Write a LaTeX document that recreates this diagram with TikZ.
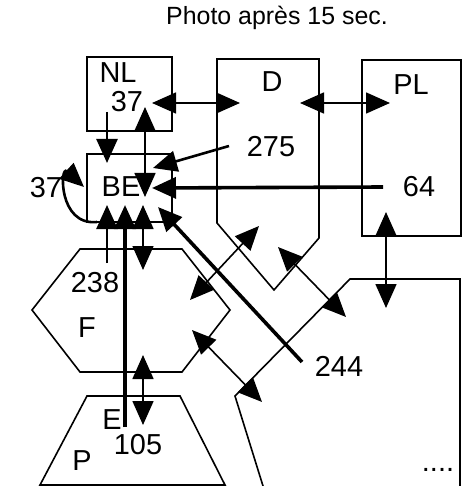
\documentclass[tikz,border=0pt]{standalone}
\usepackage{fontspec}
\setmainfont{Liberation Sans}
\usetikzlibrary{arrows.meta}

\begin{document}
\begin{tikzpicture}[x=1bp,y=-1bp,
    >={Triangle[length=24bp,width=21bp]},
    region/.style={draw,line width=1.6bp},
    lab/.style={font=\fontsize{29}{29}\selectfont,inner sep=0pt},
    thinflow/.style={line width=1.6bp},
    midflow/.style={line width=2.6bp},
    heavyflow/.style={line width=3.6bp}]

      \useasboundingbox (0,0) rectangle (465,486);

      % Define the regions
      \draw[region] (87,57) rectangle (172,131);
      \draw[region] (87,154) rectangle (172,222);
      \draw[region] (217,59) -- (319,59) -- (319,238) -- (274,290) -- (217,223) -- cycle;
      \draw[region] (362,60) rectangle (461,236);
      \draw[region] (80,249) -- (182,249) -- (230,310) -- (182,372) -- (80,372) -- (32,310) -- cycle;
      \draw[region] (40,485) -- (87,396) -- (180,396) -- (225,485) -- cycle;
      \draw[region] (263,486) -- (235,396) -- (350,279) -- (460,279) -- (460,486);

      % Define the labels
      \node[lab,font=\fontsize{25}{25}\selectfont] (title) at (277,18) {Photo après 15 sec.};
      \node[lab] (NL) at (118,73) {NL};
      \node[lab] (nl37) at (127,102) {37};
      \node[lab] (BE) at (121,187) {BE};
      \node[lab] (be37) at (46,188) {37};
      \node[lab] (D) at (272,82) {D};
      \node[lab] (PL) at (411,85) {PL};
      \node[lab] (n275) at (271,147) {275};
      \node[lab] (n64) at (419,187) {64};
      \node[lab] (n238) at (95,283) {238};
      \node[lab] (F) at (87,328) {F};
      \node[lab] (n244) at (339,366) {244};
      \node[lab] (E) at (112,420) {E};
      \node[lab] (n105) at (138,445) {105};
      \node[lab] (P) at (82,461) {P};
      \node[lab] (more) at (438,470) {....};

      % Define the arrow ends
      \coordinate (nl-d) at (152,103);
      \coordinate (d-nl) at (240,103);
      \coordinate (d-pl) at (300,103);
      \coordinate (pl-d) at (390,103);
      \coordinate (nl-out) at (107,112);
      \coordinate (be-nl) at (107,163);
      \coordinate (nl-be) at (145,107);
      \coordinate (be-nl2) at (145,197);
      \coordinate (s275) at (229,146);
      \coordinate (be275) at (153,168);
      \coordinate (s64) at (383,187);
      \coordinate (be64) at (152,188);
      \coordinate (s244) at (302,362);
      \coordinate (be244) at (158,207);
      \coordinate (s238) at (107,263);
      \coordinate (be238) at (107,205);
      \coordinate (s105) at (125,427);
      \coordinate (be105) at (125,205);
      \coordinate (be-f) at (143,205);
      \coordinate (f-be) at (143,270);
      \coordinate (f-p) at (143,355);
      \coordinate (p-f) at (143,425);
      \coordinate (f-d) at (190,300);
      \coordinate (d-f) at (259,226);
      \coordinate (d-br) at (278,247);
      \coordinate (br-d) at (346,317);
      \coordinate (f-br) at (192,330);
      \coordinate (br-f) at (262,402);
      \coordinate (pl-br) at (386,212);
      \coordinate (br-pl) at (386,308);
      \coordinate (loop-out) at (97,222);
      \coordinate (loop-in) at (84,187);

      % Draw the arrows
      \draw[<->,thinflow] (nl-d) -- (d-nl);
      \draw[<->,thinflow] (d-pl) -- (pl-d);
      \draw[->,midflow] (nl-out) -- (be-nl);
      \draw[<->,thinflow] (nl-be) -- (be-nl2);
      \draw[->,midflow] (s275) -- (be275);
      \draw[->,heavyflow] (s64) -- (be64);
      \draw[->,heavyflow] (s244) -- (be244);
      \draw[->,midflow] (s238) -- (be238);
      \draw[->,heavyflow] (s105) -- (be105);
      \draw[<->,thinflow] (be-f) -- (f-be);
      \draw[<->,thinflow] (f-p) -- (p-f);
      \draw[<->,thinflow] (f-d) -- (d-f);
      \draw[<->,thinflow] (d-br) -- (br-d);
      \draw[<->,thinflow] (f-br) -- (br-f);
      \draw[<->,thinflow] (pl-br) -- (br-pl);
      \draw[->,midflow] (loop-out) .. controls (58,226) and (60,165) .. (loop-in);
  \end{tikzpicture}
\end{document}
